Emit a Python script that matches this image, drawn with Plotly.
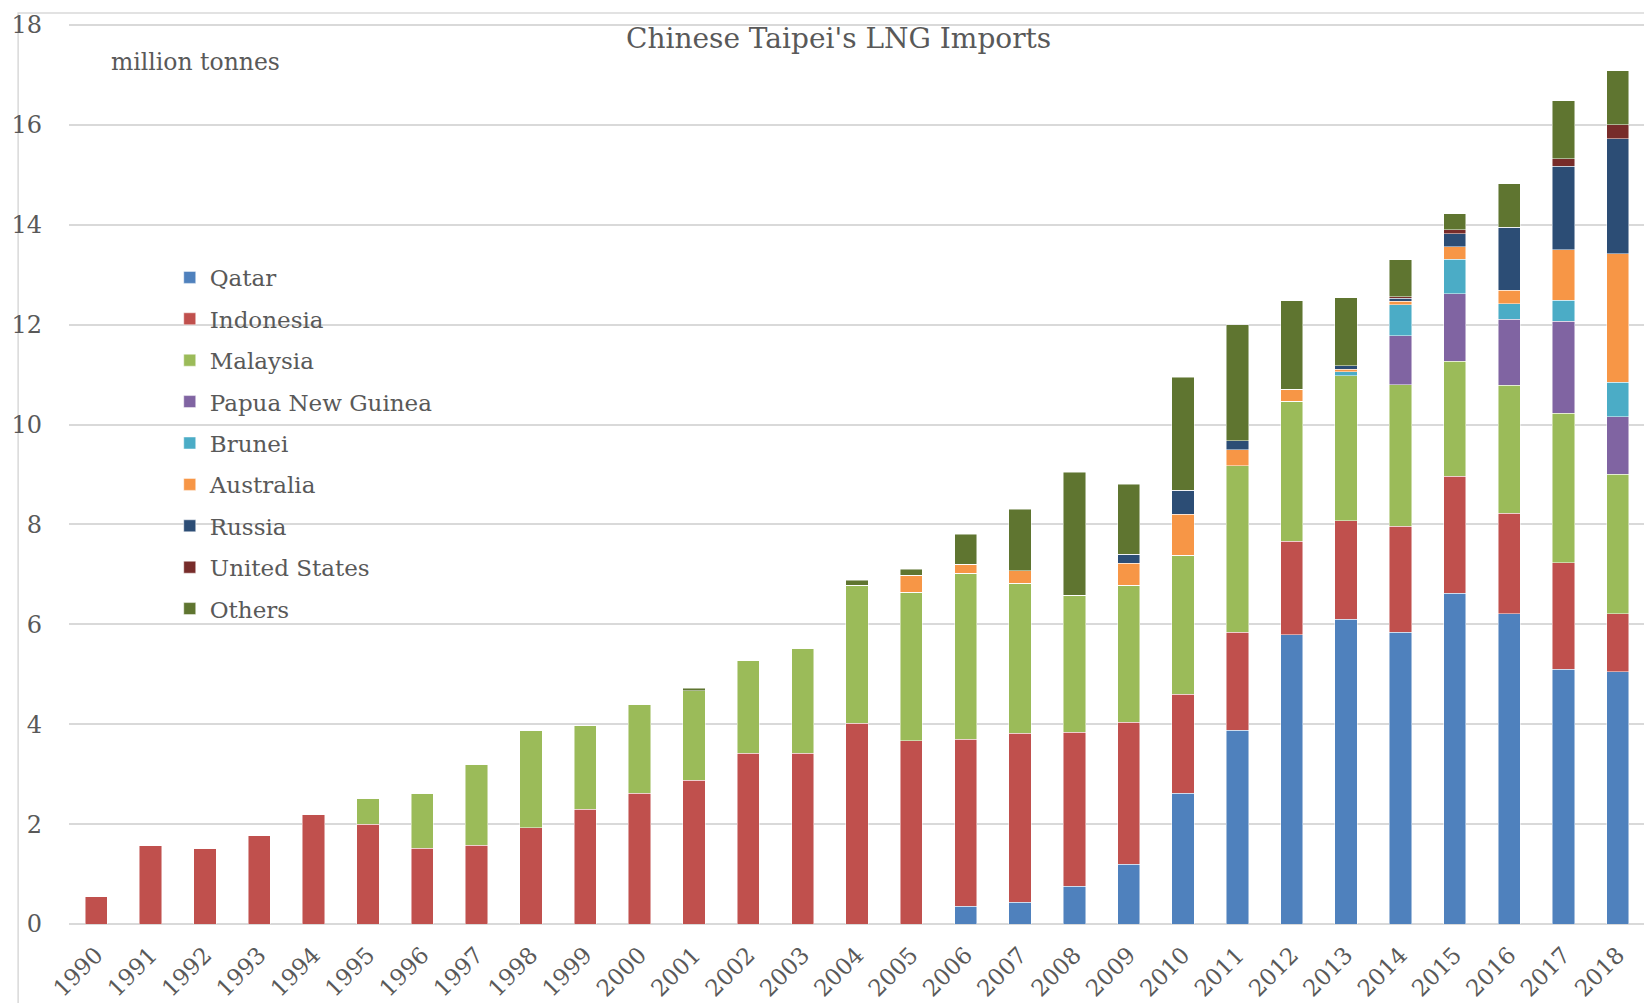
import plotly.graph_objects as go

years = [str(y) for y in range(1990, 2019)]

qatar = [0, 0, 0, 0, 0, 0, 0, 0, 0, 0, 0, 0, 0, 0, 0, 0,
         0.36, 0.44, 0.76, 1.20, 2.62, 3.88, 5.79, 6.10, 5.84, 6.62, 6.21, 5.10, 5.05]
indonesia = [0.55, 1.57, 1.52, 1.77, 2.20, 2.00, 1.52, 1.58, 1.93, 2.30, 2.62, 2.88, 3.42, 3.42, 4.02, 3.67,
             3.34, 3.38, 3.08, 2.84, 1.98, 1.96, 1.87, 1.97, 2.12, 2.34, 2.01, 2.13, 1.16]
malaysia = [0, 0, 0, 0, 0, 0.52, 1.10, 1.62, 1.95, 1.67, 1.78, 1.79, 1.85, 2.10, 2.76, 2.97,
            3.32, 3.00, 2.74, 2.74, 2.78, 3.34, 2.81, 2.91, 2.84, 2.31, 2.57, 3.00, 2.80]
png = [0] * 24 + [0.98, 1.35, 1.32, 1.84, 1.15]
brunei = [0] * 23 + [0.08, 0.62, 0.69, 0.31, 0.42, 0.69]
australia = [0] * 15 + [0.34, 0.18, 0.25, 0, 0.44, 0.82, 0.32, 0.24, 0.05, 0.07, 0.25, 0.27, 1.01, 2.57]
russia = [0] * 19 + [0.18, 0.48, 0.18, 0, 0.07, 0.06, 0.26, 1.26, 1.67, 2.30]
united_states = [0] * 24 + [0.03, 0.08, 0, 0.15, 0.28]
others = [0, 0, 0, 0, 0, 0, 0, 0, 0, 0, 0, 0.05, 0, 0, 0.10, 0.12,
          0.60, 1.23, 2.47, 1.40, 2.27, 2.32, 1.77, 1.36, 0.74, 0.32, 0.87, 1.16, 1.08]

series = [
    ("Qatar", qatar, "#4F81BD"),
    ("Indonesia", indonesia, "#C0504D"),
    ("Malaysia", malaysia, "#9BBB59"),
    ("Papua New Guinea", png, "#8064A2"),
    ("Brunei", brunei, "#4BACC6"),
    ("Australia", australia, "#F79646"),
    ("Russia", russia, "#2C4D75"),
    ("United States", united_states, "#772C2A"),
    ("Others", others, "#5F7530"),
]

FONT = "DejaVu Serif"
GREY = "#595959"

fig = go.Figure()
for name, vals, col in series:
    fig.add_trace(go.Bar(
        x=years, y=vals, name=name, legendgroup=name,
        marker=dict(color=col, line=dict(color="rgba(255,255,255,0.6)", width=0.8)),
    ))

W, H = 1652, 1003
OFF = 8  # page body margin
L, R, T, B = 57, 15, 3, 87
pw, ph = W - L - R, H - T - B
YTOP = 18.2

def px(x):
    return (x - OFF - L) / pw

def py(y):
    return (H - B - (y - OFF)) / ph

fig.update_layout(
    width=W, height=H,
    margin=dict(l=L, r=R, t=T, b=B),
    barmode="stack", bargap=0.59,
    plot_bgcolor="white", paper_bgcolor="white",
    font=dict(family=FONT, color=GREY, size=22),
    showlegend=True,
    legend=dict(
        x=px(166), y=py(253), xanchor="left", yanchor="top",
        traceorder="grouped", tracegroupgap=8.5,
        font=dict(size=23, color=GREY, family=FONT),
        bgcolor="rgba(0,0,0,0)", itemclick=False,
    ),
    xaxis=dict(
        tickangle=-45, tickfont=dict(size=23, color=GREY),
        showgrid=False, showline=False, ticks="", ticklabelstandoff=12,
    ),
    yaxis=dict(
        range=[0, YTOP], tickvals=[0, 2, 4, 6, 8, 10, 12, 14, 16, 18],
        showgrid=True, gridcolor="#D9D9D9", gridwidth=1.5,
        zeroline=True, zerolinecolor="#D9D9D9", zerolinewidth=1.5,
        tickfont=dict(size=24, color=GREY), ticks="", ticklabelstandoff=26,
        ticklabeloverflow="allow", showline=False,
    ),
    annotations=[
        dict(text="Chinese Taipei's LNG Imports", xref="paper", yref="paper",
             x=px(836), y=py(35), xanchor="center", yanchor="middle",
             showarrow=False, font=dict(size=28, color=GREY, family=FONT)),
        dict(text="million tonnes", xref="paper", yref="paper",
             x=px(192), y=py(58), xanchor="center", yanchor="middle",
             showarrow=False, font=dict(size=23.5, color=GREY, family=FONT)),
    ],
    shapes=[
        dict(type="rect", xref="paper", yref="paper",
             x0=px(14), x1=px(1700), y0=py(1050), y1=py(9),
             line=dict(color="#D9D9D9", width=1.5), fillcolor="rgba(0,0,0,0)", layer="below"),
    ],
)

fig.write_html("out.html")
